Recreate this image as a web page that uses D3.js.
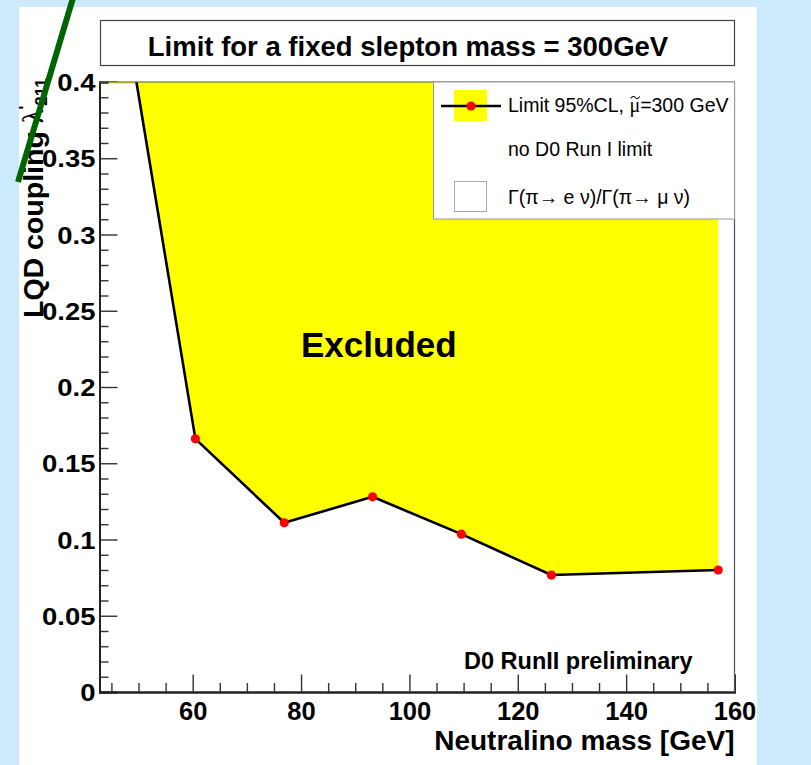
<!DOCTYPE html>
<html>
<head>
<meta charset="utf-8">
<script src="https://cdn.jsdelivr.net/npm/d3@7"></script>
<style>
  body { margin: 0; background: #cde9fc; }
  svg { display: block; }
  text { font-family: "Liberation Sans", Arial, Helvetica, sans-serif; }
</style>
</head>
<body>
<svg id="chart" width="811" height="765"></svg>
<script>
// Exclusion limit on the LQD coupling versus neutralino mass (slepton mass 300 GeV)
const neutralinoMass = [44.5, 60.5, 76.9, 93.2, 109.6, 126.2, 157.0];
const couplingLimit  = [0.51, 0.166, 0.111, 0.128, 0.1035, 0.0767, 0.080];

const xDomain = [42.8, 160];
const yDomain = [0, 0.4];
const xMajorTicks = [60, 80, 100, 120, 140, 160];
const xMinorTicks = [45, 50, 55, 65, 70, 75, 85, 90, 95, 105, 110, 115, 125, 130, 135, 145, 150, 155];
const yMajorTicks = [0, 0.05, 0.1, 0.15, 0.2, 0.25, 0.3, 0.35, 0.4];
const yTickLabels = ["0", "0.05", "0.1", "0.15", "0.2", "0.25", "0.3", "0.35", "0.4"];
const yMinorTicks = d3.range(0, 41).filter(i => i % 5 !== 0).map(i => i / 100);

const titleText = "Limit for a fixed slepton mass = 300GeV";
const xTitle = "Neutralino mass [GeV]";

const svg = d3.select("#chart");
const frame = { left: 99.5, right: 734.5, top: 82, bottom: 692 };
const serif = "Liberation Serif, Times New Roman, serif";
const sans = "Liberation Sans, Arial, sans-serif";

// page background panel
svg.append("rect").attr("x", 0).attr("y", 0).attr("width", 811).attr("height", 765).attr("fill", "#cde9fc");
svg.append("rect").attr("x", 19).attr("y", 7).attr("width", 738).attr("height", 758).attr("fill", "#ffffff");

const x = d3.scaleLinear().domain(xDomain).range([frame.left, frame.right]);
const y = d3.scaleLinear().domain(yDomain).range([frame.bottom, frame.top]);

// title box
svg.append("rect").attr("x", 100.5).attr("y", 20.5).attr("width", 634).attr("height", 45)
  .attr("fill", "#fff").attr("stroke", "#444").attr("stroke-width", 1.2);
svg.append("text").attr("x", 408).attr("y", 55.5).attr("text-anchor", "middle")
  .attr("font-weight", "bold").attr("font-size", 27.5).text(titleText);

// axes
function styleAxis(g, width) {
  g.selectAll("path.domain").attr("stroke", "#222").attr("stroke-width", 2);
  g.selectAll(".tick line").attr("stroke", "#333").attr("stroke-width", width);
}
const yAxisMinor = svg.append("g").attr("transform", `translate(${frame.left},0)`)
  .call(d3.axisLeft(y).tickValues(yMinorTicks).tickSize(-9).tickFormat(""));
styleAxis(yAxisMinor, 1.4);
const yAxis = svg.append("g").attr("transform", `translate(${frame.left},0)`)
  .call(d3.axisLeft(y).tickValues(yMajorTicks).tickSize(-18).tickPadding(4)
    .tickFormat((d, i) => yTickLabels[i]));
styleAxis(yAxis, 1.4);
yAxis.selectAll("text").attr("font-size", 24.5).attr("font-weight", "bold").attr("fill", "#000")
  .attr("font-family", sans).attr("dy", "0.35em")
  .each(function () {
    const w = this.getComputedTextLength();
    this.setAttribute("textLength", w * 1.12);
    this.setAttribute("lengthAdjust", "spacingAndGlyphs");
  });

const xAxisMinor = svg.append("g").attr("transform", `translate(0,${frame.bottom})`)
  .call(d3.axisBottom(x).tickValues(xMinorTicks).tickSize(-9).tickFormat(""));
styleAxis(xAxisMinor, 1.4);
const xAxis = svg.append("g").attr("transform", `translate(0,${frame.bottom})`)
  .call(d3.axisBottom(x).tickValues(xMajorTicks).tickSize(-17.5).tickPadding(10).tickFormat(d3.format("d")));
styleAxis(xAxis, 1.4);
xAxis.selectAll("text").attr("font-size", 25.5).attr("font-weight", "bold").attr("fill", "#000")
  .attr("font-family", sans);

// clip region for the plot contents
svg.append("clipPath").attr("id", "frameClip").append("rect")
  .attr("x", frame.left).attr("y", frame.top).attr("width", frame.right - frame.left).attr("height", frame.bottom - frame.top);

const pts = neutralinoMass.map((m, i) => [m, couplingLimit[i]]);
const plot = svg.append("g").attr("clip-path", "url(#frameClip)");
const line = d3.line().x(d => x(d[0])).y(d => y(d[1]));

// excluded region: above the limit curve, closed at the top of the range
const topY = yDomain[1];
const firstM = neutralinoMass[0], lastM = neutralinoMass[neutralinoMass.length - 1];
const region = pts.concat([[lastM, topY], [firstM, topY]]);
plot.append("path").attr("d", line(region) + "Z").attr("fill", "#ffff00");
plot.append("path").attr("d", line([[firstM, topY], [lastM, topY]]))
  .attr("stroke", "#ffff00").attr("stroke-width", 4).attr("fill", "none");

// limit curve and points
plot.append("path").attr("d", line(pts))
  .attr("fill", "none").attr("stroke", "#000").attr("stroke-width", 2.6).attr("stroke-linejoin", "round");
plot.selectAll("circle.pt").data(pts).enter().append("circle").attr("class", "pt")
  .attr("cx", d => x(d[0])).attr("cy", d => y(d[1])).attr("r", 4.6).attr("fill", "#ff0000");

// frame top and right edges
svg.append("path")
  .attr("d", `M${frame.left},${frame.top}H${frame.right}V${frame.bottom}`)
  .attr("fill", "none").attr("stroke", "#555").attr("stroke-width", 1.2);

// axis titles
svg.append("text").attr("x", frame.right).attr("y", 749.5).attr("text-anchor", "end")
  .attr("font-weight", "bold").attr("font-size", 28).text(xTitle);

const yTitle = svg.append("text").attr("transform", "translate(43,318) rotate(-90)")
  .attr("font-weight", "bold").attr("font-size", 28.5);
yTitle.append("tspan").text("LQD coupling ");
yTitle.append("tspan").attr("font-family", serif).attr("font-weight", "normal").text("λ");
yTitle.append("tspan").attr("font-size", 16).attr("dy", -12).text("'");
yTitle.append("tspan").attr("font-size", 17).attr("dy", 16).text("211");

// annotations
svg.append("text").attr("x", 301).attr("y", 356.5).attr("font-weight", "bold").attr("font-size", 35).text("Excluded");
svg.append("text").attr("x", 464).attr("y", 669).attr("font-weight", "bold").attr("font-size", 23.5).text("D0 RunII preliminary");

// legend
const lg = svg.append("g");
lg.append("rect").attr("x", 433.5).attr("y", 82).attr("width", 301).attr("height", 137)
  .attr("fill", "#fff").attr("stroke", "#999").attr("stroke-width", 1);
lg.append("rect").attr("x", 454).attr("y", 90).attr("width", 33).attr("height", 31).attr("fill", "#ffff00");
lg.append("line").attr("x1", 441).attr("x2", 501).attr("y1", 106).attr("y2", 106).attr("stroke", "#000").attr("stroke-width", 2.6);
lg.append("circle").attr("cx", 471).attr("cy", 106).attr("r", 4.6).attr("fill", "#ff0000");

// first entry: smuon symbol, with its tilde accent drawn as a small wave above it
const t1 = lg.append("text").attr("x", 508).attr("y", 112).attr("font-size", 19.5);
t1.append("tspan").text("Limit 95%CL, ");
t1.append("tspan").attr("font-family", serif).attr("font-size", 20).text("μ");
t1.append("tspan").text("=300 GeV");
{
  const node = t1.node();
  const muIndex = "Limit 95%CL, ".length;
  const s = node.getStartPositionOfChar(muIndex).x;
  const e = node.getEndPositionOfChar(muIndex).x;
  const cx = (s + e) / 2 + 0.5, cy = 97.5, hw = 4.5;
  const p = d3.path();
  p.moveTo(cx - hw, cy + 1);
  p.quadraticCurveTo(cx - hw / 2, cy - 2.5, cx, cy);
  p.quadraticCurveTo(cx + hw / 2, cy + 2.5, cx + hw, cy - 1);
  lg.append("path").attr("d", p.toString()).attr("fill", "none").attr("stroke", "#000").attr("stroke-width", 1.1);
}
lg.append("text").attr("x", 508).attr("y", 156).attr("font-size", 19.5).text("no D0 Run I limit");

lg.append("rect").attr("x", 454.5).attr("y", 181.5).attr("width", 32).attr("height", 30)
  .attr("fill", "#fff").attr("stroke", "#aaa").attr("stroke-width", 1);
const t3 = lg.append("text").attr("x", 508).attr("y", 204).attr("font-size", 19.5).attr("font-family", serif);
t3.append("tspan").text("Γ(π→ ");
t3.append("tspan").attr("font-family", sans).text("e");
t3.append("tspan").text(" ν)/Γ(π→ μ ν)");

// pointer stroke on the left margin
svg.append("line").attr("x1", 18).attr("y1", 182).attr("x2", 73).attr("y2", -2)
  .attr("stroke", "#006400").attr("stroke-width", 6);
</script>
</body>
</html>
